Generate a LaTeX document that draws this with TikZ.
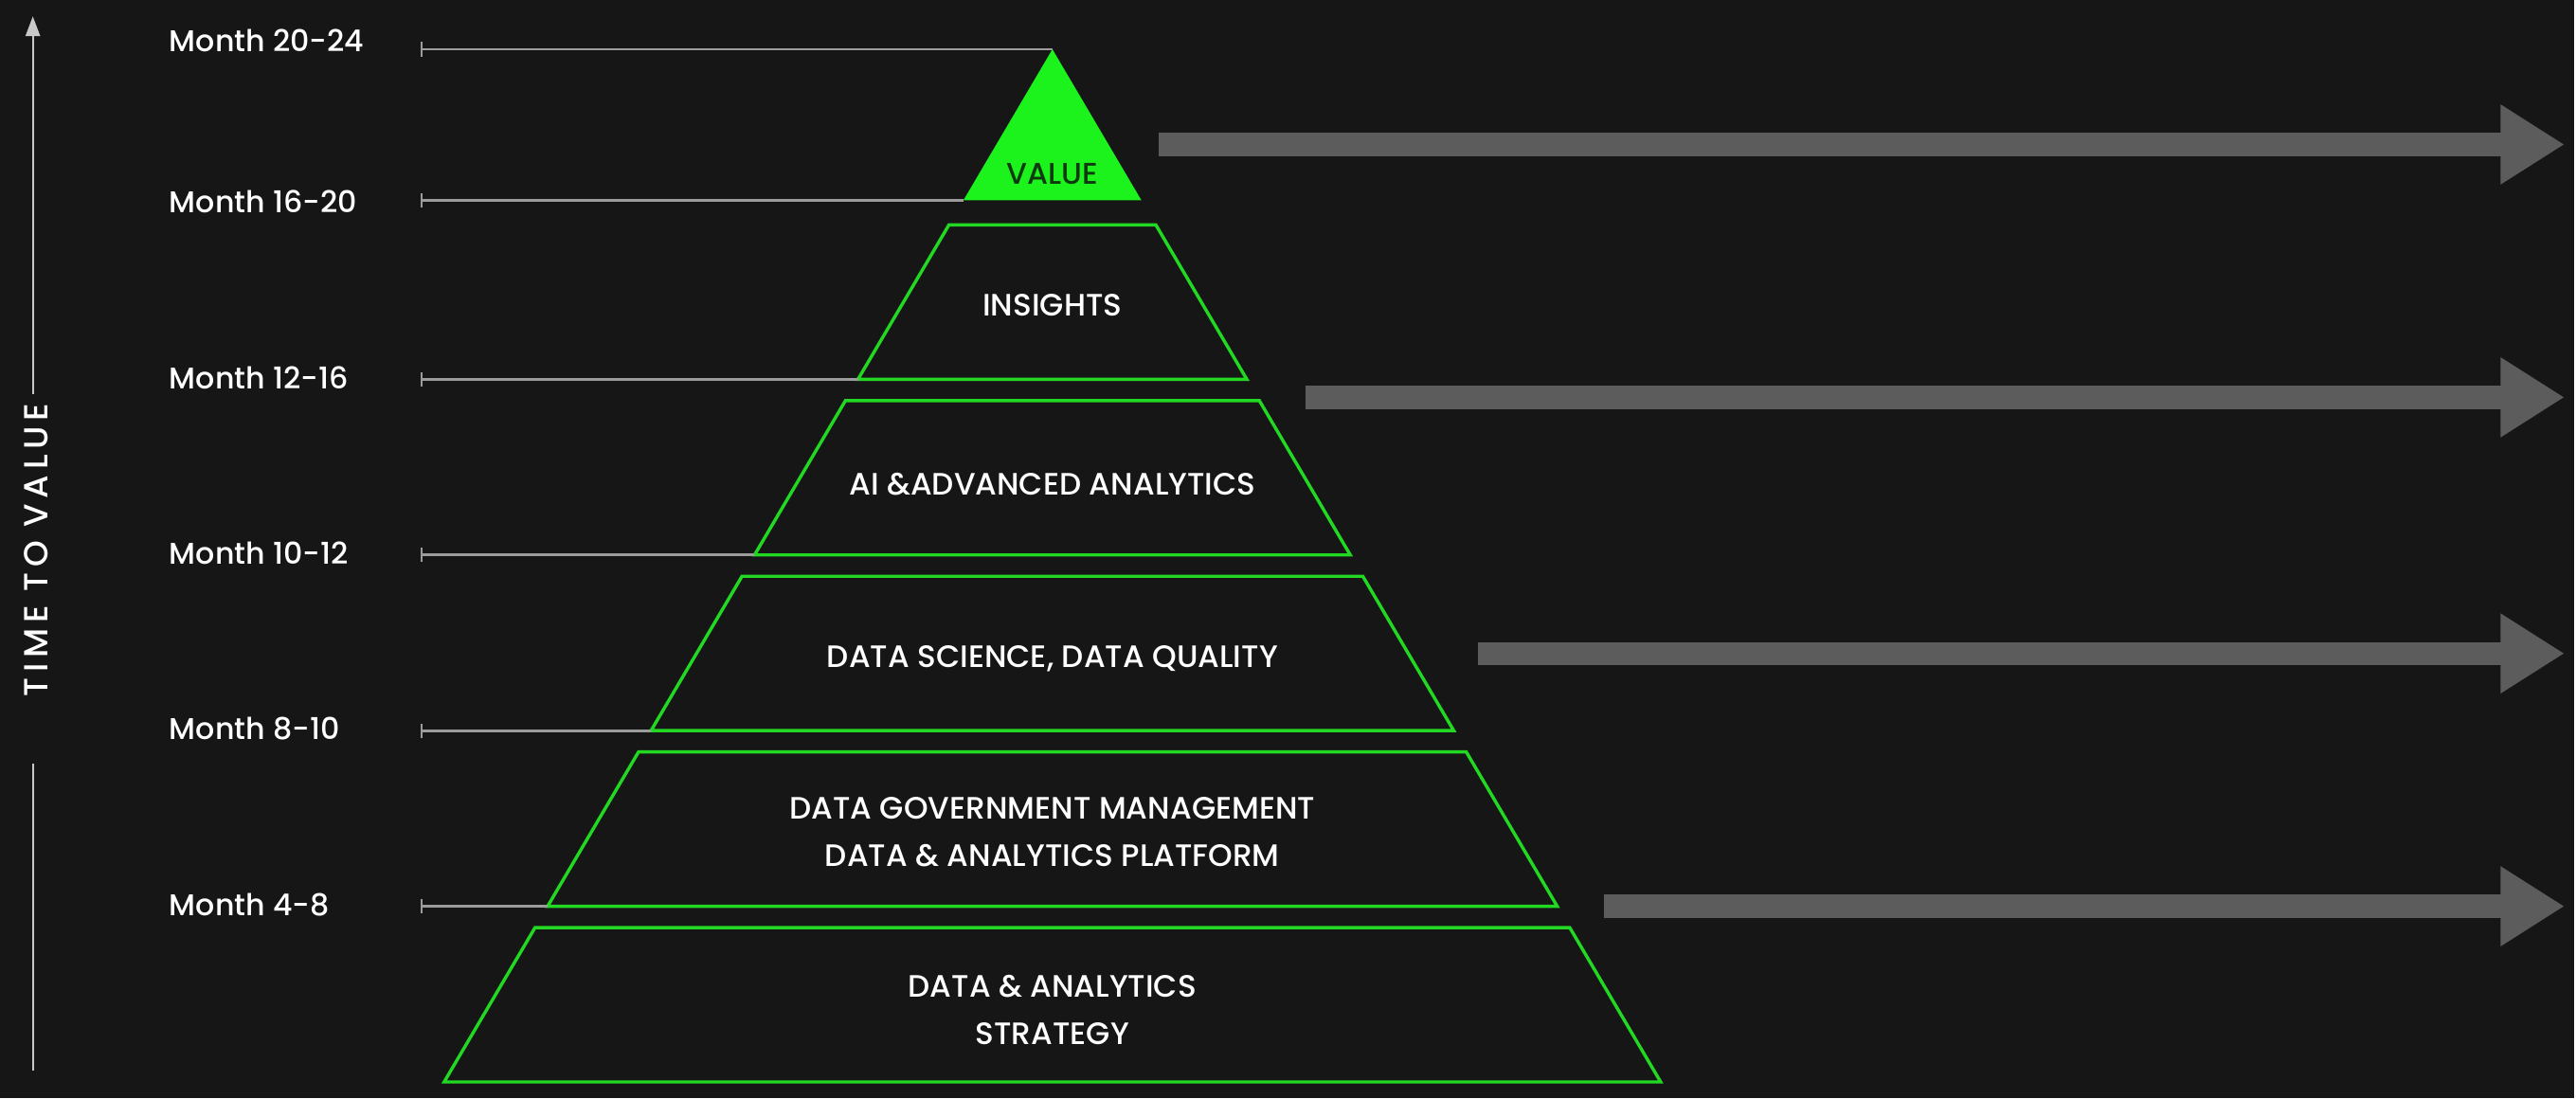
\documentclass[tikz,border=0pt]{standalone}
\usepackage{fontspec}
\setmainfont{Poppins Medium}
\newfontfamily\trackfont[LetterSpace=16]{Poppins Medium}
\usepackage{xcolor}
\usetikzlibrary{arrows.meta}

\definecolor{bgdark}{HTML}{161616}
\definecolor{lvlgreen}{HTML}{22D822}
\definecolor{valgreen}{HTML}{1CF21C}
\definecolor{valtext}{HTML}{0E3A0E}
\definecolor{shaftgray}{HTML}{5C5C5C}
\definecolor{guidegray}{HTML}{9C9C9C}
\definecolor{axisgray}{HTML}{C8C8C8}

\begin{document}
\begin{tikzpicture}[
    x=0.025cm, y=-0.025cm,
    lvl/.style={draw=lvlgreen, line width=1.4pt, line join=miter},
    lvltext/.style={text=white, align=center, font=\fontsize{13.4}{20.6}\selectfont},
    month/.style={text=white, anchor=west, inner xsep=0pt, font=\fontsize{13}{15}\selectfont},
    guide/.style={draw=guidegray, line width=1.1pt, {Bar[width=0.22cm]}-},
    bigarrow/.style={draw=shaftgray, line width=0.35cm, -{Triangle[length=0.975cm,width=1.15cm]}},
    axis/.style={draw=axisgray, line width=0.8pt}
  ]
    \fill[bgdark] (0,0) rectangle (1568,669);
    \coordinate (tick) at (256,0);

    % pyramid
    \coordinate (apex) at (641,30);
    \coordinate (value-bl) at (586.8,122);
    \fill[valgreen] (apex) -- (695.2,122) -- (value-bl) -- cycle;
    \foreach \t/\n in {137/ins,244/ai,351/ds,458/gov,565/strat}{
      \pgfmathsetmacro\a{(\t-30)*0.589}
      \pgfmathsetmacro\b{(\t+64)*0.589}
      \draw[lvl] ({641-\a},\t) -- ({641+\a},\t) -- ({641+\b},\t+94) -- ({641-\b},\t+94) -- cycle;
      \coordinate (\n-bl) at ({641-\b},\t+94);
    }

    \node[text=valtext, font=\fontsize{13}{15}\selectfont] (value) at (641,106) {VALUE};
    \node[lvltext] (ins) at (641,186) {INSIGHTS};
    \node[lvltext] (ai) at (641,295) {AI \&ADVANCED ANALYTICS};
    \node[lvltext] (ds) at (641,401) {DATA SCIENCE, DATA QUALITY};
    \node[lvltext] (gov) at (641,507) {DATA GOVERNMENT MANAGEMENT\\DATA \& ANALYTICS PLATFORM};
    \node[lvltext] (strat) at (641,615) {DATA \& ANALYTICS\\STRATEGY};

    % months
    \node[month] (m2024) at (103,25) {Month 20-24};
    \node[month] (m1620) at (103,123) {Month 16-20};
    \node[month] (m1216) at (103,230) {Month 12-16};
    \node[month] (m1012) at (103,337) {Month 10-12};
    \node[month] (m0810) at (103,444) {Month 8-10};
    \node[month] (m0408) at (103,551) {Month 4-8};
    \draw[guide] (apex -| tick) -- (apex);
    \draw[guide] (value-bl -| tick) -- (value-bl);
    \draw[guide] (ins-bl -| tick) -- (ins-bl);
    \draw[guide] (ai-bl -| tick) -- (ai-bl);
    \draw[guide] (ds-bl -| tick) -- (ds-bl);
    \draw[guide] (gov-bl -| tick) -- (gov-bl);

    % time axis
    \node[rotate=90, text=white, font=\trackfont\fontsize{14.5}{16}\selectfont] (ttv) at (22,335) {TIME TO VALUE};
    \coordinate (axtip) at (20,10);
    \coordinate (axmid) at (20,240);
    \coordinate (axlow) at (20,465);
    \coordinate (axfoot) at (20,652);
    \draw[axis, -{Triangle[length=0.3cm,width=0.22cm]}] (axmid) -- (axtip);
    \draw[axis] (axlow) -- (axfoot);

    % value arrows
    \foreach \y/\x [count=\i] in {88/706,242/795,398/900,552/977}{
      \coordinate (s\i) at (\x,\y);
      \coordinate (e\i) at (1562,\y);
      \draw[bigarrow] (s\i) -- (e\i);
    }
\end{tikzpicture}
\end{document}
